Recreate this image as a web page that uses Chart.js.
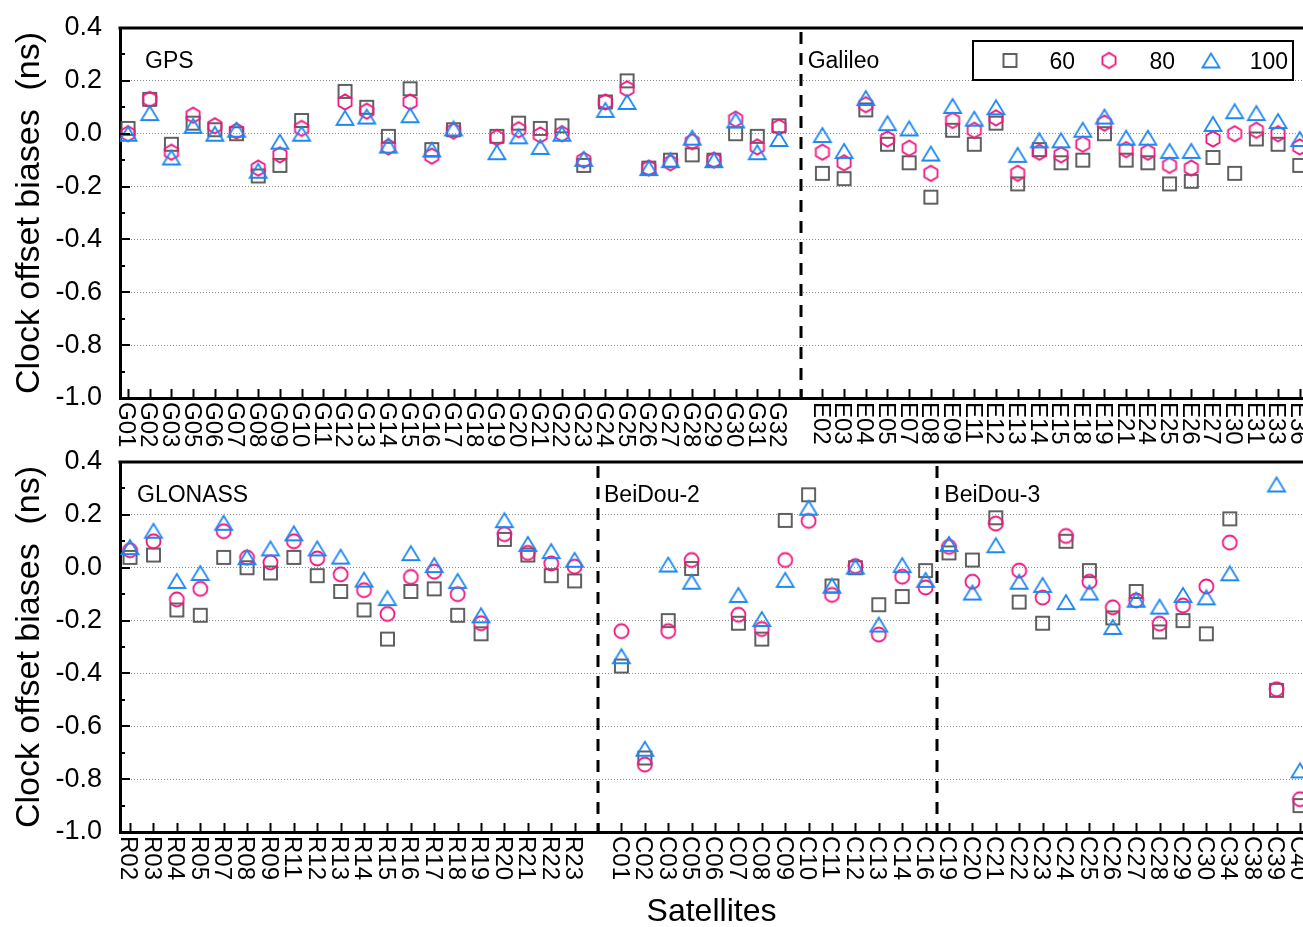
<!DOCTYPE html>
<html>
<head>
<meta charset="utf-8">
<script src="https://cdn.jsdelivr.net/npm/chart.js@4/dist/chart.umd.min.js"></script>
<style>
  html, body { margin: 0; padding: 0; background: #fff; }
  #wrap { position: relative; width: 1303px; height: 927px; overflow: hidden; }
  canvas { position: absolute; left: 0; }
  #topChart { top: 0; }
  #bottomChart { top: 440px; }
</style>
</head>
<body>
<div id="wrap">
  <canvas id="topChart" width="1330" height="460"></canvas>
  <canvas id="bottomChart" width="1330" height="487"></canvas>
</div>
<script>
// ---- Satellites (tick labels) ----
const gpsSats = ['G01','G02','G03','G05','G06','G07','G08','G09','G10','G11','G12','G13','G14','G15','G16','G17','G18','G19','G20','G21','G22','G23','G24','G25','G26','G27','G28','G29','G30','G31','G32'];
const galSats = ['E02','E03','E04','E05','E07','E08','E09','E11','E12','E13','E14','E15','E18','E19','E21','E24','E25','E26','E27','E30','E31','E33','E36'];
const gloSats = ['R02','R03','R04','R05','R07','R08','R09','R11','R12','R13','R14','R15','R16','R17','R18','R19','R20','R21','R22','R23'];
const bds2Sats = ['C01','C02','C03','C05','C06','C07','C08','C09','C10','C11','C12','C13','C14','C16'];
const bds3Sats = ['C19','C20','C21','C22','C23','C24','C25','C26','C27','C28','C29','C30','C34','C38','C39','C40'];

// ---- Series names ----
const seriesNames = ['60', '80', '100'];

// ---- Clock offset biases (ns) ----
const gps60  = [0.02,0.13,-0.04,0.04,0.015,0.0,-0.16,-0.12,0.05,null,0.16,0.10,-0.01,0.17,-0.06,0.015,null,-0.01,0.04,0.02,0.03,-0.12,0.12,0.20,-0.13,-0.10,-0.08,-0.10,0.0,-0.01,0.03];
const gps80  = [0.0,0.13,-0.07,0.07,0.03,0.01,-0.13,-0.08,0.02,null,0.12,0.085,-0.05,0.12,-0.085,0.01,null,-0.015,0.015,-0.005,0.0,-0.10,0.12,0.17,-0.13,-0.11,-0.03,-0.10,0.055,-0.05,0.025];
const gps100 = [0.0,0.078,-0.09,0.03,0.0,0.015,-0.14,-0.03,0.0,null,0.06,0.065,-0.045,0.07,-0.06,0.02,null,-0.07,-0.01,-0.05,0.0,-0.095,0.09,0.12,-0.13,-0.10,-0.015,-0.10,0.05,-0.07,-0.02];

const gal60  = [-0.15,-0.17,0.09,-0.04,-0.11,-0.24,0.013,-0.04,0.04,-0.19,-0.06,-0.11,-0.10,0.0,-0.10,-0.11,-0.19,-0.18,-0.09,-0.15,-0.02,-0.04,-0.12];
const gal80  = [-0.07,-0.11,0.11,-0.02,-0.055,-0.15,0.05,0.013,0.06,-0.15,-0.07,-0.08,-0.04,0.04,-0.06,-0.07,-0.12,-0.13,-0.02,0.0,0.013,0.0,-0.05];
const gal100 = [-0.005,-0.065,0.135,0.04,0.02,-0.075,0.105,0.057,0.10,-0.08,-0.025,-0.025,0.015,0.065,-0.015,-0.015,-0.065,-0.065,0.037,0.085,0.078,0.048,-0.02];

const glo60  = [0.039,0.048,-0.16,-0.18,0.039,0.0,-0.02,0.039,-0.03,-0.09,-0.16,-0.27,-0.09,-0.08,-0.18,-0.25,0.107,0.048,-0.03,-0.05];
const glo80  = [0.066,0.10,-0.12,-0.08,0.138,0.038,0.02,0.10,0.035,-0.025,-0.085,-0.175,-0.035,-0.015,-0.10,-0.21,0.127,0.056,0.016,0.004];
const glo100 = [0.078,0.14,-0.05,-0.02,0.17,0.04,0.073,0.13,0.073,0.042,-0.045,-0.115,0.055,0.01,-0.05,-0.18,0.18,0.09,0.063,0.03];

const bds2_60  = [-0.372,-0.72,-0.20,-0.003,null,-0.21,-0.27,0.179,0.276,-0.069,0.0,-0.14,-0.109,-0.011];
const bds2_80  = [-0.24,-0.745,-0.24,0.029,null,-0.178,-0.232,0.029,0.177,-0.103,0.006,-0.253,-0.034,-0.075];
const bds2_100 = [-0.335,-0.685,0.012,-0.053,null,-0.103,-0.194,-0.046,0.227,-0.068,0.004,-0.215,0.01,-0.046];

const bds3_60  = [0.056,0.029,0.189,-0.13,-0.21,0.10,-0.011,-0.19,-0.09,-0.243,-0.20,-0.25,0.185,null,-0.464,-0.90];
const bds3_80  = [0.079,-0.053,0.167,-0.011,-0.113,0.12,-0.053,-0.15,-0.124,-0.212,-0.143,-0.071,0.095,null,-0.46,-0.876];
const bds3_100 = [0.09,-0.094,0.085,-0.053,-0.065,-0.13,-0.094,-0.224,-0.121,-0.147,-0.103,-0.112,-0.021,null,0.315,-0.767];

// ---- Y axis ticks ----
const yTicks = [0.4, 0.2, 0.0, -0.2, -0.4, -0.6, -0.8, -1.0];

// ---- Style ----
const FONT = "'Liberation Sans', Arial, Helvetica, sans-serif";
const C60 = '#505050', C80 = '#f0177f', C100 = '#1c88f4';
const LW = 1.8;

function makeMarker(w, h, draw) {
  const c = document.createElement('canvas');
  c.width = w; c.height = h;
  const g = c.getContext('2d');
  g.lineWidth = LW;
  draw(g, w / 2, h / 2);
  return c;
}
const squareMk = makeMarker(17, 17, (g, cx, cy) => {
  g.strokeStyle = C60; g.strokeRect(cx - 6.5, cy - 6.5, 13, 13);
});
const hexMk = makeMarker(18, 20, (g, cx, cy) => {
  g.strokeStyle = C80; g.beginPath();
  const R = 7.6;
  for (let k = 0; k < 6; k++) {
    const a = -Math.PI / 2 + k * Math.PI / 3;
    const px = cx + R * Math.cos(a), py = cy + R * Math.sin(a);
    if (k === 0) g.moveTo(px, py); else g.lineTo(px, py);
  }
  g.closePath(); g.stroke();
});
const circleMk = makeMarker(19, 19, (g, cx, cy) => {
  g.strokeStyle = C80; g.beginPath(); g.arc(cx, cy, 7, 0, Math.PI * 2); g.stroke();
});
const triMk = makeMarker(22, 18, (g, cx, cy) => {
  g.strokeStyle = C100; g.beginPath();
  g.moveTo(cx, cy - 7); g.lineTo(cx + 8.5, cy + 7); g.lineTo(cx - 8.5, cy + 7);
  g.closePath(); g.stroke();
});

// Concatenate constellations along one index axis; a '' label leaves an empty slot.
function buildAxis(groups) {
  const labels = [];
  const series = [[], [], []];
  groups.forEach(gr => {
    if (gr.gap) { labels.push(''); return; }
    gr.sats.forEach((s, i) => {
      const idx = labels.length;
      labels.push(s);
      gr.vals.forEach((arr, k) => {
        if (arr[i] !== null && arr[i] !== undefined) series[k].push({ x: idx, y: arr[i] });
      });
    });
  });
  return { labels, series };
}

const topAxis = buildAxis([
  { sats: gpsSats, vals: [gps60, gps80, gps100] },
  { gap: true },
  { sats: galSats, vals: [gal60, gal80, gal100] }
]);
const botAxis = buildAxis([
  { sats: gloSats, vals: [glo60, glo80, glo100] },
  { gap: true },
  { sats: bds2Sats, vals: [bds2_60, bds2_80, bds2_100] },
  { sats: bds3Sats, vals: [bds3_60, bds3_80, bds3_100] }
]);

// Axis decorations: frame, inward ticks, rotated satellite names, separators, group names, legend.
const decor = {
  id: 'decor',
  afterDraw(chart, args, o) {
    const { ctx, chartArea: a, scales: { x, y } } = chart;
    ctx.save();
    ctx.strokeStyle = '#000';
    // top frame
    ctx.lineWidth = 3;
    ctx.beginPath(); ctx.moveTo(a.left - 1.5, a.top); ctx.lineTo(a.right, a.top); ctx.stroke();
    // y ticks, major every 0.2, minor every 0.1
    ctx.lineWidth = 2;
    for (let v = -10; v <= 4; v++) {
      const py = Math.round(y.getPixelForValue(v / 10));
      const len = (Math.abs(v) % 2 === 0) ? 10 : 5;
      ctx.beginPath(); ctx.moveTo(a.left, py); ctx.lineTo(a.left + len, py); ctx.stroke();
    }
    // x ticks at every slot
    for (let i = 0; i < o.labels.length; i++) {
      const px = Math.round(x.getPixelForValue(i)) + 0.5;
      ctx.beginPath(); ctx.moveTo(px, a.bottom); ctx.lineTo(px, a.bottom - 9); ctx.stroke();
    }
    // dashed separators between constellations
    ctx.lineWidth = 3;
    ctx.setLineDash([12, 9]);
    o.separators.forEach(s => {
      const px = Math.round(x.getPixelForValue(s));
      ctx.beginPath(); ctx.moveTo(px, a.top + 4); ctx.lineTo(px, a.bottom); ctx.stroke();
    });
    ctx.setLineDash([]);
    // satellite names, rotated clockwise
    ctx.fillStyle = '#000';
    const fs = 24;
    ctx.font = fs + 'px ' + FONT;
    ctx.textAlign = 'left';
    ctx.textBaseline = 'alphabetic';
    o.labels.forEach((lab, i) => {
      if (!lab) return;
      const px = x.getPixelForValue(i);
      ctx.save();
      ctx.translate(px, a.bottom + 4);
      ctx.rotate(Math.PI / 2);
      ctx.fillText(lab, 0, fs * 0.716 / 2);
      ctx.restore();
    });
    // group names
    ctx.font = '23px ' + FONT;
    o.groups.forEach(gn => {
      const gx = gn.at === null ? a.left + gn.dx : x.getPixelForValue(gn.at) + gn.dx;
      ctx.fillText(gn.text, gx, a.top + 40);
    });
    // y axis title
    ctx.save();
    ctx.translate(30, (a.top + a.bottom) / 2);
    ctx.rotate(-Math.PI / 2);
    ctx.textAlign = 'center';
    ctx.textBaseline = 'middle';
    ctx.font = '34px ' + FONT;
    ctx.fillText('Clock offset biases  (ns)', 0, 0);
    ctx.restore();
    // x axis title
    if (o.xTitle) {
      ctx.textAlign = 'center';
      ctx.font = '32px ' + FONT;
      ctx.fillText(o.xTitle, (a.left + 1303) / 2, a.bottom + 89);
    }
    // legend
    if (o.legend) {
      const bx = 973, by = a.top + 13, bw = 320, bh = 39;
      ctx.fillStyle = '#fff';
      ctx.fillRect(bx, by, bw, bh);
      ctx.lineWidth = 2;
      ctx.strokeStyle = '#000';
      ctx.strokeRect(bx, by, bw, bh);
      const marks = [squareMk, hexMk, triMk];
      const markX = [37, 136, 238];
      const textR = [102, 202, 315];
      ctx.fillStyle = '#000';
      ctx.font = '23px ' + FONT;
      ctx.textAlign = 'right';
      ctx.textBaseline = 'middle';
      seriesNames.forEach((n, k) => {
        const m = marks[k];
        ctx.drawImage(m, bx + markX[k] - m.width / 2, by + bh / 2 - m.height / 2);
        ctx.fillText(n, bx + textR[k], by + bh / 2 + 2);
      });
    }
    ctx.restore();
  }
};

function makeChart(id, axis, opts) {
  const canvas = document.getElementById(id);
  const W = canvas.width, H = canvas.height;
  const datasets = [
    { label: seriesNames[0], data: axis.series[0], pointStyle: squareMk, order: 2 },
    { label: seriesNames[1], data: axis.series[1], pointStyle: opts.mid, order: 1 },
    { label: seriesNames[2], data: axis.series[2], pointStyle: triMk, order: 0 }
  ].map(d => Object.assign(d, { showLine: false, pointRadius: 7, pointHoverRadius: 7 }));

  const padding = { top: opts.area.top, left: 0, right: W - opts.area.right, bottom: 0 };
  opts.xh = H - opts.area.bottom;
  opts.yw = opts.area.left;
  const options = {
    responsive: false,
    animation: false,
    devicePixelRatio: 1,
    layout: { padding },
    plugins: {
      legend: { display: false },
      tooltip: { enabled: false },
      decor: {
        labels: axis.labels,
        separators: opts.separators,
        groups: opts.groups,
        legend: opts.legend,
        xTitle: opts.xTitle
      }
    },
    scales: {
      x: {
        type: 'linear',
        min: opts.xmin, max: opts.xmax,
        ticks: { display: false },
        grid: { display: false },
        border: { display: true, width: 3, color: '#000' },
        afterFit: s => { s.height = opts.xh; s.paddingLeft = 0; s.paddingRight = 0; }
      },
      y: {
        min: -1.0, max: 0.4,
        afterBuildTicks: s => { s.ticks = yTicks.map(v => ({ value: v })); },
        ticks: {
          color: '#000',
          font: { family: FONT, size: 27 },
          padding: 18,
          callback: v => (Math.abs(v) < 1e-9 ? 0 : v).toFixed(1)
        },
        grid: {
          drawTicks: false,
          lineWidth: 1,
          color: c => (c.tick && (c.tick.value > 0.39 || c.tick.value < -0.99)) ? 'rgba(0,0,0,0)' : '#8c8c8c'
        },
        border: { display: true, width: 3, color: '#000', dash: [1, 2] },
        // the end labels may overhang the frame, so no extra room is reserved for them
        afterFit: s => { s.width = opts.yw; s.paddingTop = 0; s.paddingBottom = 0; }
      }
    }
  };
  const chart = new Chart(canvas, {
    type: 'scatter',
    data: { datasets },
    options,
    plugins: [decor]
  });
  // settle the plot rectangle onto the wanted frame
  for (let pass = 0; pass < 4; pass++) {
    const a = chart.chartArea;
    const dt = opts.area.top - a.top, db = a.bottom - opts.area.bottom;
    const dl = opts.area.left - a.left, dr = a.right - opts.area.right;
    if (Math.abs(dt) < 0.5 && Math.abs(db) < 0.5 && Math.abs(dl) < 0.5 && Math.abs(dr) < 0.5) break;
    padding.top += dt;
    padding.right += dr;
    opts.xh += db;
    opts.yw += dl;
    chart.update();
  }
  return chart;
}

// frames in each canvas's own coordinates (bottom canvas sits 440px lower)
makeChart('topChart', topAxis, {
  area: { left: 120, right: 1303, top: 28, bottom: 398 },
  xmin: -0.37, xmax: 54.15,
  mid: hexMk,
  separators: [31],
  groups: [{ text: 'GPS', at: null, dx: 25 }, { text: 'Galileo', at: 31, dx: 7 }],
  legend: true
});
makeChart('bottomChart', botAxis, {
  area: { left: 120, right: 1303, top: 22, bottom: 392 },
  xmin: -0.43, xmax: 50.13,
  mid: circleMk,
  separators: [20, 34.5],
  groups: [{ text: 'GLONASS', at: null, dx: 17 }, { text: 'BeiDou-2', at: 20, dx: 6 }, { text: 'BeiDou-3', at: 34.5, dx: 7 }],
  xTitle: 'Satellites'
});
</script>
</body>
</html>
